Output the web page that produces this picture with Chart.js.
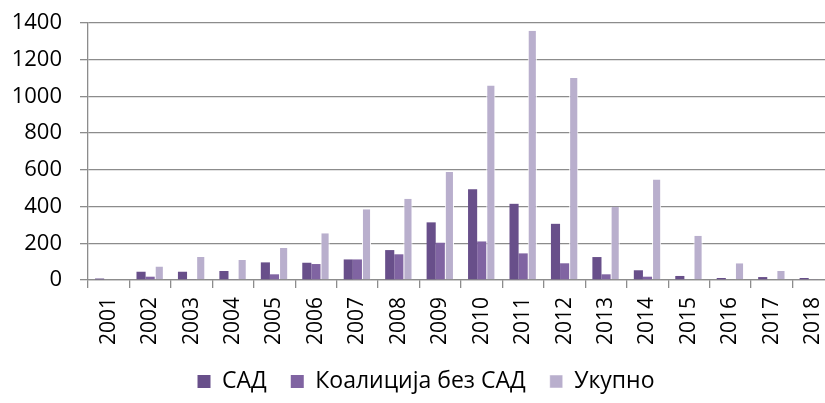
<!DOCTYPE html>
<html>
<head>
<meta charset="utf-8">
<script src="https://cdn.jsdelivr.net/npm/chart.js@4"></script>
<style>
  html, body { margin: 0; padding: 0; background: #fff; overflow: hidden; }
  #wrap { position: relative; width: 856px; height: 403px; }
</style>
</head>
<body>
<div id="wrap"><canvas id="yearChart" width="856" height="403"></canvas></div>
<script>
const years = ['2001', '2002', '2003', '2004', '2005', '2006', '2007', '2008', '2009',
               '2010', '2011', '2012', '2013', '2014', '2015', '2016', '2017', '2018'];
const sad = [8, 45, 45, 49, 96, 94, 112, 163, 314, 495, 415, 306, 125, 53, 22, 11, 16, 11];
const koalicija = [0, 18, 4, 4, 31, 87, 112, 140, 203, 210, 145, 91, 31, 18, 0, 0, 0, 3];
const ukupno = [0, 73, 125, 109, 174, 254, 386, 442, 588, 1059, 1358, 1101, 399, 548, 241, 91, 49, 0];
const seriesNames = ['САД', 'Коалиција без САД', 'Укупно'];
const yTicks = [0, 200, 400, 600, 800, 1000, 1200, 1400];

const gridGray = '#8c8c8c';
const font = "'Open Sans', 'Noto Sans', sans-serif";

// nudge the legend a little to the right, like the original
const legendShift = {
    id: 'legendShift',
    afterLayout(chart) {
        chart.legend.left += 9;
        chart.legend.right += 9;
    }
};

document.addEventListener('DOMContentLoaded', () => {
    const ctx = document.getElementById('yearChart').getContext('2d');

    new Chart(ctx, {
        type: 'bar',
        data: {
            labels: years,
            datasets: [
                { label: seriesNames[0], data: sad, backgroundColor: '#684f8a' },
                { label: seriesNames[1], data: koalicija, backgroundColor: '#8064a2' },
                { label: seriesNames[2], data: ukupno, backgroundColor: '#b9afcd',
                  borderColor: '#ffffff', borderWidth: { left: 1, right: 1 } }
            ]
        },
        plugins: [legendShift],
        options: {
            responsive: false,
            animation: false,
            categoryPercentage: 0.66,
            barPercentage: 1.0,
            layout: { padding: { top: 0, right: 22, left: 0, bottom: 0 } },
            plugins: {
                legend: {
                    position: 'bottom',
                    labels: {
                        boxWidth: 13,
                        boxHeight: 13,
                        padding: 24,
                        color: '#000',
                        font: { family: font, size: 23 }
                    }
                },
                tooltip: { enabled: false }
            },
            scales: {
                y: {
                    min: 0,
                    max: 1400,
                    afterBuildTicks: (scale) => { scale.ticks = yTicks.map(v => ({ value: v })); },
                    afterFit: (scale) => {
                        scale.width = 88;
                        scale.paddingTop = 23;
                    },
                    grid: { color: gridGray, lineWidth: 1.3, tickLength: 8 },
                    border: { color: gridGray, width: 1.3 },
                    ticks: {
                        color: '#000',
                        padding: 18,
                        font: { family: font, size: 22 },
                        callback: (v) => String(v)
                    }
                },
                x: {
                    afterFit: (scale) => { scale.height = 66; },
                    grid: { drawOnChartArea: false, color: gridGray, lineWidth: 1.3, tickLength: 8 },
                    border: { color: gridGray, width: 1.3 },
                    ticks: {
                        color: '#000',
                        minRotation: 90,
                        maxRotation: 90,
                        padding: 9,
                        font: { family: font, size: 21 }
                    }
                }
            }
        }
    });
});
</script>
</body>
</html>
